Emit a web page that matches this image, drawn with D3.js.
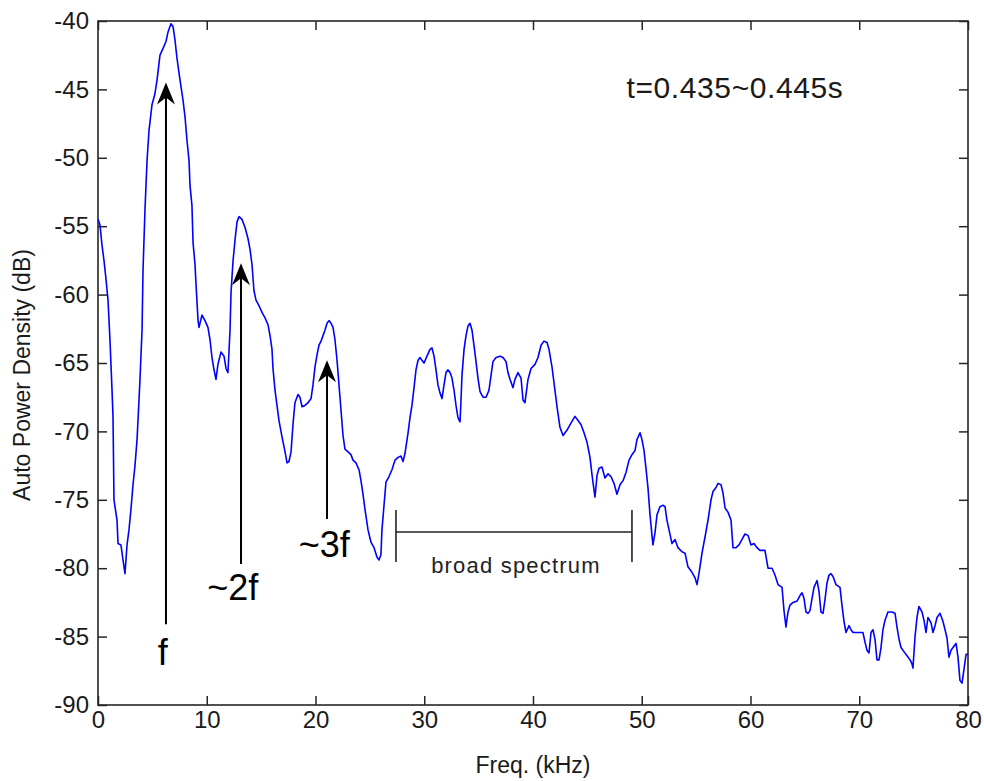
<!DOCTYPE html>
<html>
<head>
<meta charset="utf-8">
<script src="https://cdn.jsdelivr.net/npm/d3@7"></script>
<style>
html,body{margin:0;padding:0;background:#fff;}
svg{display:block;}
text{font-family:"Liberation Sans",Arial,sans-serif;}
</style>
</head>
<body>
<svg id="chart" width="984" height="781"></svg>
<script>
// ---- data ----
const freq = [0,0.18,0.37,0.55,0.74,0.92,1.10,1.29,1.38,1.47,1.75,1.84,2.11,2.30,2.48,2.67,2.85,3.03,3.22,3.40,3.59,3.77,3.86,4.05,4.14,4.32,4.51,4.69,4.97,5.24,5.43,5.70,5.98,6.25,6.44,6.71,6.90,7.08,7.26,7.54,7.82,8.00,8.18,8.37,8.46,8.64,8.74,8.92,9.01,9.20,9.29,9.56,9.84,10.11,10.30,10.48,10.67,10.85,11.03,11.31,11.59,11.77,11.95,12.14,12.23,12.41,12.60,12.78,12.97,13.24,13.52,13.79,13.98,14.16,14.34,14.53,14.80,15.08,15.36,15.63,15.82,16.00,16.09,16.28,16.46,16.64,16.92,17.20,17.38,17.56,17.75,17.93,18.11,18.39,18.57,18.76,19.03,19.31,19.59,19.77,19.95,20.14,20.32,20.51,20.69,20.87,21.06,21.24,21.43,21.61,21.79,21.98,22.16,22.34,22.53,22.71,22.99,23.26,23.45,23.72,24.00,24.18,24.37,24.55,24.83,25.10,25.38,25.66,25.84,26.02,26.11,26.30,26.48,26.76,27.03,27.31,27.59,27.86,28.05,28.23,28.51,28.69,28.87,29.06,29.24,29.43,29.61,29.79,29.98,30.25,30.53,30.71,30.90,31.08,31.26,31.45,31.63,31.82,32.00,32.18,32.37,32.55,32.74,32.92,33.10,33.29,33.38,33.47,33.66,33.84,34.02,34.21,34.39,34.57,34.76,34.94,35.13,35.40,35.68,35.95,36.14,36.32,36.60,36.97,37.24,37.52,37.70,37.89,38.16,38.34,38.62,38.90,39.08,39.26,39.54,39.82,40.18,40.46,40.74,41.01,41.29,41.47,41.75,42.02,42.21,42.48,42.76,43.13,43.49,43.86,44.14,44.41,44.69,44.97,45.24,45.43,45.61,45.70,45.89,46.07,46.34,46.62,46.90,47.17,47.45,47.72,48.00,48.28,48.55,48.83,49.10,49.38,49.56,49.84,50.02,50.21,50.39,50.57,50.76,50.94,51.03,51.22,51.40,51.68,51.95,52.14,52.32,52.51,52.78,53.06,53.33,53.70,53.98,54.25,54.62,54.90,55.08,55.26,55.54,55.82,56.09,56.37,56.55,56.83,57.01,57.29,57.47,57.66,57.93,58.21,58.39,58.67,58.94,59.22,59.49,59.77,60.05,60.32,60.60,60.87,61.33,61.61,61.98,62.25,62.53,62.90,63.08,63.26,63.45,63.63,63.91,64.28,64.55,64.74,64.92,65.10,65.29,65.47,65.66,65.84,66.12,66.30,66.48,66.67,66.85,67.03,67.22,67.40,67.59,67.86,68.23,68.41,68.60,68.78,69.06,69.24,69.43,69.70,70.07,70.34,70.53,70.71,70.90,71.08,71.26,71.45,71.63,71.82,72.00,72.18,72.37,72.64,73.01,73.29,73.47,73.66,73.84,74.11,74.39,74.67,74.85,74.94,75.13,75.31,75.49,75.77,75.95,76.14,76.32,76.60,76.78,76.97,77.15,77.43,77.70,77.89,78.07,78.25,78.44,78.62,78.90,79.08,79.26,79.45,79.63,79.82,80.00];
const psd = [-54.5,-54.9,-56.4,-57.5,-58.9,-60.4,-63.3,-67.0,-68.9,-75.0,-76.5,-78.2,-78.3,-79.4,-80.4,-78.3,-77.2,-75.7,-73.9,-72.5,-70.6,-67.7,-66.2,-62.6,-58.2,-53.8,-50.2,-48.0,-46.1,-45.3,-44.3,-42.5,-42.0,-41.5,-40.8,-40.2,-40.4,-41.4,-42.7,-44.3,-45.8,-47.0,-48.7,-50.2,-52.0,-53.5,-56.2,-57.8,-59.2,-61.9,-62.4,-61.5,-61.9,-62.4,-63.3,-64.6,-65.5,-66.2,-65.1,-64.2,-64.5,-65.4,-65.7,-62.6,-59.9,-57.6,-56.0,-54.7,-54.3,-54.5,-55.1,-55.9,-56.7,-57.8,-59.7,-60.4,-60.8,-61.3,-61.7,-62.2,-63.0,-64.0,-65.4,-67.0,-68.1,-69.2,-70.4,-71.5,-72.3,-72.2,-71.5,-69.5,-67.9,-67.3,-67.5,-68.2,-68.1,-67.9,-67.6,-66.6,-65.3,-64.4,-63.7,-63.4,-63.0,-62.6,-62.1,-61.9,-62.1,-62.4,-63.3,-64.8,-66.6,-68.4,-70.3,-71.3,-71.5,-71.7,-72.1,-72.3,-72.8,-73.6,-74.6,-75.7,-77.2,-78.1,-78.5,-79.2,-79.4,-79.0,-77.2,-75.4,-73.7,-73.3,-72.8,-72.1,-71.9,-71.8,-72.2,-71.6,-70.1,-69.0,-68.1,-66.8,-65.5,-64.8,-64.6,-64.8,-65.0,-64.5,-64.0,-63.9,-64.5,-65.5,-66.6,-67.2,-67.6,-66.6,-65.7,-65.5,-65.7,-66.1,-67.0,-68.1,-69.0,-69.3,-67.7,-65.9,-64.0,-63.0,-62.3,-62.1,-62.6,-63.7,-64.9,-66.1,-67.1,-67.5,-67.5,-67.0,-65.9,-64.9,-64.6,-64.5,-64.6,-64.9,-65.7,-66.2,-66.8,-66.2,-65.7,-66.1,-67.7,-67.9,-66.2,-65.4,-65.1,-64.6,-63.7,-63.4,-63.5,-64.0,-65.3,-67.0,-68.2,-69.7,-70.3,-69.9,-69.4,-68.9,-69.2,-69.5,-70.1,-70.8,-71.9,-73.2,-74.3,-74.8,-73.2,-72.7,-72.6,-73.4,-73.1,-73.3,-73.8,-74.6,-73.9,-73.6,-73.0,-72.1,-71.7,-71.4,-70.6,-70.1,-70.6,-71.4,-72.7,-74.1,-76.1,-77.6,-78.3,-77.4,-76.1,-75.5,-75.4,-75.5,-76.5,-77.2,-78.2,-77.9,-78.5,-78.8,-78.9,-79.9,-80.3,-80.7,-81.2,-80.4,-78.9,-77.7,-76.5,-75.0,-74.4,-74.1,-73.8,-73.9,-74.5,-75.6,-75.9,-76.5,-78.5,-78.5,-78.3,-77.9,-77.5,-77.6,-78.3,-78.2,-78.5,-78.7,-78.7,-80.0,-80.0,-80.5,-81.2,-81.4,-83.1,-84.3,-83.2,-82.7,-82.5,-82.4,-82.0,-81.8,-82.2,-83.2,-83.3,-83.1,-82.2,-81.4,-80.9,-81.7,-83.2,-83.3,-82.3,-81.1,-80.5,-80.4,-80.6,-81.2,-81.4,-82.7,-83.9,-84.7,-84.2,-84.5,-84.7,-84.7,-84.7,-84.7,-85.4,-86.0,-86.2,-84.7,-84.5,-85.2,-86.7,-86.7,-85.8,-84.5,-83.8,-83.2,-83.2,-83.3,-84.3,-85.2,-85.8,-86.1,-86.4,-86.7,-87.0,-87.3,-85.0,-83.6,-82.8,-83.2,-83.8,-84.7,-83.6,-84.0,-84.7,-84.2,-83.6,-83.3,-83.9,-84.5,-85.1,-86.5,-86.0,-85.8,-85.5,-86.5,-88.2,-88.4,-87.4,-86.3,-86.3];
const xTicks = [0,10,20,30,40,50,60,70,80];
const yTicks = [-90,-85,-80,-75,-70,-65,-60,-55,-50,-45,-40];
const xLabel = "Freq. (kHz)";
const yLabel = "Auto Power Density (dB)";
const timeLabel = "t=0.435~0.445s";
// harmonic arrows
const arrowFreq = [6.25, 13.15, 21.06];
const arrowTip = [-44.5, -57.7, -64.8];
const arrowTail = [-84.1, -79.7, -76.4];
const arrowText = ["f", "~2f", "~3f"];
const arrowTextDb = [-87.1, -82.3, -79.2];
const arrowTextFreq = [5.95, 12.4, 20.8];
const bandRange = [27.4, 49.1];
const bandDb = -77.35;
const bandText = "broad spectrum";

// ---- layout ----
const M = {left: 98, top: 21, right: 16, bottom: 76};
const W = 984, H = 781;
const iw = W - M.left - M.right, ih = H - M.top - M.bottom;
const svg = d3.select("#chart");
const g = svg.append("g").attr("transform", `translate(${M.left},${M.top})`);
const x = d3.scaleLinear().domain([0, 80]).range([0, iw]);
const y = d3.scaleLinear().domain([-90, -40]).range([ih, 0]);

const axColor = "#262626";
const tickFont = 24;
function styleAxis(sel, noLabels) {
  sel.select(".domain").remove();
  sel.selectAll(".tick line").attr("stroke", axColor).attr("stroke-width", 1.5);
  sel.selectAll(".tick text").attr("fill", "#1a1a1a").style("font-size", tickFont + "px")
     .style("font-family", '"Liberation Sans", Arial, sans-serif');
  if (noLabels) sel.selectAll(".tick text").remove();
}
g.append("g").attr("transform", `translate(0,${ih})`)
  .call(d3.axisBottom(x).tickValues(xTicks).tickSizeInner(-9).tickSizeOuter(0).tickPadding(6).tickFormat(d => String(d)))
  .call(s => styleAxis(s, false));
g.append("g")
  .call(d3.axisTop(x).tickValues(xTicks).tickSizeInner(-9).tickSizeOuter(0))
  .call(s => styleAxis(s, true));
g.append("g")
  .call(d3.axisLeft(y).tickValues(yTicks).tickSizeInner(-9).tickSizeOuter(0).tickPadding(9).tickFormat(d => String(d)))
  .call(s => styleAxis(s, false));
g.append("g").attr("transform", `translate(${iw},0)`)
  .call(d3.axisRight(y).tickValues(yTicks).tickSizeInner(-9).tickSizeOuter(0))
  .call(s => styleAxis(s, true));

// frame
g.append("rect").attr("x", 0).attr("y", 0).attr("width", iw).attr("height", ih)
  .attr("fill", "none").attr("stroke", axColor).attr("stroke-width", 1.6);

// spectrum
const pts = freq.map((f, i) => [f, psd[i]]);
g.append("path").datum(pts)
  .attr("fill", "none").attr("stroke", "#0000ff").attr("stroke-width", 1.6)
  .attr("stroke-linejoin", "round")
  .attr("d", d3.line().x(d => x(d[0])).y(d => y(d[1])));

// arrows
arrowFreq.forEach((f, i) => {
  const ax = x(f), ty = y(arrowTip[i]), by = y(arrowTail[i]);
  g.append("line").attr("x1", ax).attr("x2", ax).attr("y1", by).attr("y2", ty + 10)
    .attr("stroke", "#000").attr("stroke-width", 2);
  g.append("path")
    .attr("d", `M${ax},${ty} L${ax + 9},${ty + 22} L${ax},${ty + 15} L${ax - 9},${ty + 22} Z`)
    .attr("fill", "#000");
  g.append("text").attr("x", x(arrowTextFreq[i])).attr("y", y(arrowTextDb[i]))
    .attr("text-anchor", "middle").style("font-size", "36px").attr("fill", "#000")
    .text(arrowText[i]);
});

// broad spectrum bracket
const bx1 = x(bandRange[0]), bx2 = x(bandRange[1]), byy = y(bandDb);
const bk = g.append("g").attr("stroke", "#222").attr("stroke-width", 1.6);
bk.append("line").attr("x1", bx1).attr("x2", bx2).attr("y1", byy).attr("y2", byy);
bk.append("line").attr("x1", bx1).attr("x2", bx1).attr("y1", byy - 22).attr("y2", byy + 30);
bk.append("line").attr("x1", bx2).attr("x2", bx2).attr("y1", byy - 22).attr("y2", byy + 30);
g.append("text").attr("x", (bx1 + bx2) / 2 + 2).attr("y", byy + 41)
  .attr("text-anchor", "middle").style("font-size", "22px").style("letter-spacing", "1.2px")
  .attr("fill", "#222").text(bandText);

// time label
g.append("text").attr("x", x(48.6)).attr("y", y(-45.6))
  .style("font-size", "30px").style("letter-spacing", "0.6px").attr("fill", "#1a1a1a").text(timeLabel);

// axis titles
svg.append("text").attr("x", M.left + iw / 2).attr("y", 773)
  .attr("text-anchor", "middle").style("font-size", "23px").attr("fill", "#1a1a1a").text(xLabel);
svg.append("text").attr("transform", `translate(30,375) rotate(-90)`)
  .attr("text-anchor", "middle").style("font-size", "23px").attr("fill", "#1a1a1a").text(yLabel);
</script>
</body>
</html>
